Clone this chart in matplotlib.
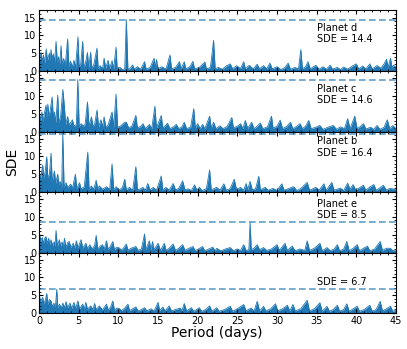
import matplotlib.pyplot as plt
from matplotlib.ticker import AutoMinorLocator

# (period [days], SDE) pairs
planet_d = [(0.05, 3.0), (0.25, 5.2), (0.4, 2.5), (0.55, 4.5), (0.7, 2.2), (0.9, 6.2), (1.05, 3.0), (1.3, 5.0),
            (1.4, 2.8), (1.5, 6.0), (1.65, 3.5), (1.8, 4.8), (1.95, 2.5), (2.14, 8.3), (2.3, 2.2), (2.45, 4.0),
            (2.6, 2.0), (2.77, 7.1), (2.9, 1.8), (3.1, 3.5), (3.3, 1.5), (3.6, 9.0), (3.75, 1.3), (3.95, 2.8),
            (4.2, 1.2), (4.4, 3.0), (4.6, 1.0), (4.9, 9.6), (5.05, 1.2), (5.25, 2.0), (5.5, 8.3), (5.65, 1.0),
            (5.85, 2.2), (6.1, 5.2), (6.25, 0.9), (6.5, 5.2), (6.65, 0.8), (6.9, 1.8), (7.3, 6.4), (7.45, 0.7),
            (7.7, 1.5), (8.0, 0.6), (8.2, 3.6), (8.4, 0.8), (8.7, 3.0), (8.9, 0.7), (9.2, 2.9), (9.4, 0.6),
            (9.7, 6.7), (9.85, 0.5), (10.2, 1.0), (10.5, 0.4), (10.8, 0.6), (11.0, 14.4), (11.2, 0.4), (11.5, 0.8),
            (11.8, 1.7), (12.0, 0.5), (12.4, 1.2), (12.8, 0.5), (13.3, 2.6), (13.5, 0.5), (14.0, 1.0), (14.5, 3.6),
            (14.65, 1.0), (14.8, 3.2), (15.0, 0.6), (15.5, 1.2), (16.0, 0.5), (16.5, 4.5), (16.7, 0.6), (17.2, 1.0),
            (17.7, 2.6), (17.9, 0.6), (18.3, 2.6), (18.5, 0.6), (19.0, 1.2), (19.4, 2.7), (19.6, 0.6), (20.2, 1.0),
            (20.9, 2.5), (21.1, 0.6), (21.6, 1.0), (22.0, 8.6), (22.2, 0.6), (22.6, 1.0), (23.1, 0.5), (23.6, 1.4),
            (24.1, 2.0), (24.4, 0.6), (24.9, 1.5), (25.4, 0.7), (25.8, 2.6), (26.0, 0.6), (26.5, 1.6), (27.0, 0.6),
            (27.5, 1.9), (27.8, 0.6), (28.3, 1.5), (28.7, 0.6), (29.1, 2.2), (29.4, 0.6), (30.0, 1.2), (30.5, 0.4),
            (31.0, 1.0), (31.4, 2.2), (31.7, 0.5), (32.3, 1.0), (32.7, 0.5), (33.0, 6.0), (33.2, 0.6), (33.6, 1.2),
            (33.9, 2.6), (34.2, 0.6), (34.6, 1.2), (34.9, 1.6), (35.3, 0.5), (35.8, 1.2), (36.2, 0.5), (36.7, 1.6),
            (37.0, 0.5), (37.6, 1.0), (38.0, 0.4), (38.4, 1.1), (38.9, 0.5), (39.5, 1.4), (40.0, 2.0), (40.3, 0.6),
            (40.8, 1.4), (41.2, 0.6), (41.7, 2.0), (42.0, 0.6), (42.6, 1.5), (43.1, 0.8), (43.5, 2.0), (43.8, 3.3),
            (44.0, 1.0), (44.3, 3.6), (44.5, 1.0), (44.7, 1.6), (45.0, 1.0)]

planet_c = [(0.05, 5.3), (0.2, 3.0), (0.35, 5.5), (0.5, 2.8), (0.65, 5.0), (0.88, 7.4), (1.0, 4.0), (1.1, 7.7),
            (1.25, 4.5), (1.4, 5.8), (1.64, 9.7), (1.8, 3.5), (1.93, 5.5), (2.1, 2.5), (2.35, 10.2), (2.5, 2.5),
            (2.7, 4.0), (3.0, 11.8), (3.2, 6.7), (3.35, 2.0), (3.6, 4.2), (3.8, 1.8), (4.2, 3.3), (4.4, 1.5),
            (4.7, 2.0), (4.88, 14.6), (5.05, 1.5), (5.3, 2.2), (5.6, 1.5), (5.8, 2.0), (6.1, 8.3), (6.3, 1.5),
            (6.6, 4.1), (6.8, 1.5), (7.0, 2.0), (7.3, 6.0), (7.5, 1.3), (7.8, 3.3), (8.0, 1.3), (8.2, 4.1),
            (8.4, 1.3), (8.7, 1.8), (9.2, 5.5), (9.4, 1.3), (9.7, 10.5), (9.9, 1.2), (10.3, 1.6), (10.8, 2.6),
            (11.0, 2.6), (11.3, 1.0), (11.7, 1.5), (12.2, 4.5), (12.4, 1.0), (12.8, 1.4), (13.1, 2.2), (13.4, 0.8),
            (13.9, 2.0), (14.2, 0.8), (14.6, 7.1), (14.8, 1.0), (15.4, 4.5), (15.6, 1.0), (16.2, 2.3), (16.5, 0.8),
            (17.0, 1.4), (17.3, 2.0), (17.6, 0.8), (18.0, 1.3), (18.3, 2.6), (18.6, 0.8), (19.1, 1.2), (19.5, 6.4),
            (19.7, 1.0), (20.0, 2.2), (20.3, 0.8), (20.6, 2.0), (20.9, 0.8), (21.5, 4.3), (21.7, 1.0), (22.0, 2.6),
            (22.3, 0.8), (22.8, 1.6), (23.2, 0.8), (23.7, 1.4), (24.3, 3.9), (24.5, 1.0), (25.0, 1.5), (25.4, 2.2),
            (25.7, 0.8), (26.0, 3.1), (26.3, 0.9), (26.8, 2.6), (27.1, 0.8), (27.5, 1.5), (27.9, 2.4), (28.2, 0.8),
            (28.8, 1.3), (29.3, 4.3), (29.5, 0.9), (30.0, 1.5), (30.4, 3.2), (30.7, 0.8), (31.2, 1.4), (31.7, 2.6),
            (32.0, 0.8), (32.5, 1.5), (32.9, 2.2), (33.2, 0.8), (33.6, 1.5), (34.0, 3.1), (34.3, 0.8), (34.9, 1.2),
            (35.4, 1.7), (35.8, 0.6), (36.4, 1.2), (37.1, 1.7), (37.5, 0.6), (38.0, 1.3), (38.5, 0.8), (38.9, 3.6),
            (39.2, 0.8), (39.8, 4.3), (40.1, 0.8), (40.5, 1.4), (40.9, 2.2), (41.2, 0.7), (41.8, 1.2), (42.2, 0.6),
            (42.6, 1.7), (43.0, 0.6), (43.5, 1.2), (43.9, 3.3), (44.2, 0.8), (44.6, 1.7), (45.0, 0.8)]

planet_b = [(0.05, 5.4), (0.2, 3.5), (0.35, 6.0), (0.46, 7.6), (0.6, 4.0), (0.75, 5.5), (0.97, 9.9), (1.1, 4.0),
            (1.3, 5.0), (1.51, 10.9), (1.65, 3.0), (1.93, 5.9), (2.1, 2.5), (2.35, 5.0), (2.5, 2.0), (2.65, 3.0),
            (2.85, 1.5), (2.99, 16.4), (3.15, 1.5), (3.4, 2.6), (3.6, 1.3), (4.0, 2.2), (4.2, 1.0), (4.58, 5.0),
            (4.75, 1.0), (5.1, 2.6), (5.3, 0.9), (5.7, 1.5), (6.14, 11.2), (6.3, 0.8), (6.6, 1.7), (6.9, 0.8),
            (7.2, 3.3), (7.4, 0.8), (7.6, 1.7), (8.0, 0.8), (8.5, 1.5), (8.9, 0.7), (9.2, 7.9), (9.4, 0.7),
            (9.7, 1.5), (10.1, 0.6), (10.5, 1.2), (10.8, 3.6), (11.0, 0.6), (11.4, 1.3), (11.8, 0.5), (12.2, 7.1),
            (12.4, 0.6), (12.8, 0.9), (13.1, 1.3), (13.4, 0.5), (13.7, 2.4), (14.0, 0.6), (14.4, 1.3), (14.8, 0.5),
            (15.4, 4.5), (15.6, 0.6), (16.0, 1.3), (16.4, 0.5), (16.9, 2.4), (17.2, 0.6), (17.6, 1.0), (18.1, 3.1),
            (18.4, 0.6), (18.8, 0.9), (19.2, 0.4), (19.6, 2.0), (19.9, 0.5), (20.2, 1.3), (20.6, 0.4), (21.1, 1.0),
            (21.5, 6.2), (21.7, 0.6), (22.0, 0.9), (22.4, 1.3), (22.8, 0.5), (23.3, 2.3), (23.6, 0.5), (24.1, 1.0),
            (24.6, 3.6), (24.9, 0.6), (25.4, 1.3), (25.8, 0.5), (26.1, 2.4), (26.3, 0.7), (26.6, 3.0), (26.9, 0.5),
            (27.3, 1.0), (27.7, 4.4), (27.9, 0.6), (28.5, 1.3), (28.9, 0.5), (29.5, 1.0), (30.0, 0.5), (30.6, 2.3),
            (30.9, 0.5), (31.5, 1.0), (32.1, 1.5), (32.5, 0.4), (33.0, 1.0), (33.8, 2.7), (34.1, 0.5), (34.9, 1.3),
            (35.3, 0.5), (35.9, 2.3), (36.2, 0.5), (36.9, 2.7), (37.2, 0.5), (38.0, 1.1), (38.4, 0.4), (38.9, 2.5),
            (39.2, 0.8), (39.6, 2.1), (39.9, 0.6), (40.4, 1.2), (40.9, 1.9), (41.2, 0.5), (41.7, 1.4), (42.2, 2.1),
            (42.5, 0.5), (43.0, 1.2), (43.4, 1.9), (43.8, 0.5), (44.2, 1.0), (44.6, 0.9), (45.0, 0.6)]

planet_e = [(0.05, 5.5), (0.2, 3.0), (0.4, 4.2), (0.55, 2.5), (0.7, 4.0), (0.88, 4.5), (1.0, 2.5), (1.2, 4.0),
            (1.35, 2.2), (1.5, 3.6), (1.7, 2.0), (1.9, 3.0), (2.0, 1.8), (2.14, 6.2), (2.3, 1.8), (2.56, 3.6),
            (2.7, 1.8), (2.9, 3.0), (3.05, 1.6), (3.2, 4.0), (3.4, 1.5), (3.6, 2.8), (3.8, 3.1), (4.0, 1.4),
            (4.3, 2.6), (4.5, 1.3), (4.7, 3.3), (4.9, 1.3), (5.1, 2.5), (5.3, 3.6), (5.5, 1.2), (5.9, 2.6),
            (6.1, 1.1), (6.4, 2.2), (6.7, 1.0), (7.0, 2.0), (7.2, 4.8), (7.4, 1.0), (7.7, 1.8), (8.0, 2.2),
            (8.2, 0.9), (8.5, 3.3), (8.7, 0.9), (9.0, 1.8), (9.3, 3.1), (9.5, 0.8), (9.8, 1.5), (10.1, 1.3),
            (10.4, 0.7), (10.7, 1.4), (11.0, 2.4), (11.2, 0.7), (11.6, 1.2), (12.2, 1.7), (12.5, 0.6), (12.9, 1.0),
            (13.3, 5.2), (13.45, 0.8), (13.9, 3.3), (14.1, 0.8), (14.3, 3.1), (14.5, 0.8), (15.0, 2.6), (15.3, 0.6),
            (15.8, 2.6), (16.0, 0.6), (16.4, 1.2), (16.9, 2.4), (17.2, 0.6), (17.6, 1.2), (18.1, 2.2), (18.4, 0.6),
            (18.9, 1.2), (19.4, 1.7), (19.7, 0.5), (20.1, 1.0), (20.6, 1.7), (20.9, 0.5), (21.4, 1.0), (21.9, 1.5),
            (22.2, 0.5), (22.4, 1.2), (22.9, 0.5), (23.5, 1.0), (24.1, 1.4), (24.5, 0.5), (25.0, 1.0), (25.4, 0.6),
            (25.8, 2.2), (26.1, 0.6), (26.45, 0.8), (26.6, 8.5), (26.75, 0.8), (27.1, 1.2), (27.5, 2.2), (27.8, 0.8),
            (28.3, 1.4), (28.7, 0.6), (29.3, 1.0), (30.0, 2.2), (30.3, 0.6), (31.0, 2.6), (31.3, 0.6), (31.9, 1.8),
            (32.3, 0.5), (32.9, 1.0), (33.5, 0.6), (33.8, 3.3), (34.1, 0.6), (34.7, 1.2), (35.4, 2.6), (35.7, 0.5),
            (36.3, 1.4), (36.7, 0.5), (37.2, 1.0), (37.6, 2.2), (37.9, 0.5), (38.4, 1.0), (38.8, 3.1), (39.1, 0.5),
            (39.6, 1.2), (40.1, 2.2), (40.4, 0.5), (40.9, 1.2), (41.4, 1.8), (41.7, 0.5), (42.3, 1.0), (43.0, 3.1),
            (43.3, 0.6), (43.8, 1.2), (44.3, 1.2), (44.6, 0.5), (45.0, 0.8)]

residual = [(0.05, 4.8), (0.2, 3.0), (0.46, 4.4), (0.6, 2.5), (0.8, 3.8), (0.97, 5.5), (1.1, 2.5), (1.3, 3.8),
            (1.5, 3.4), (1.65, 1.8), (1.85, 2.8), (2.05, 1.5), (2.23, 6.7), (2.35, 1.5), (2.56, 2.5), (2.8, 1.5),
            (3.0, 2.8), (3.2, 1.5), (3.4, 3.2), (3.6, 1.5), (3.9, 2.8), (4.1, 1.3), (4.4, 3.0), (4.6, 1.3),
            (4.9, 3.4), (5.1, 1.2), (5.5, 2.5), (5.7, 1.1), (5.9, 3.0), (6.1, 1.1), (6.5, 2.0), (6.8, 1.0),
            (7.0, 2.7), (7.2, 1.0), (7.6, 2.0), (8.0, 0.9), (8.5, 2.5), (8.7, 0.9), (9.0, 1.6), (9.3, 3.4),
            (9.5, 0.8), (9.8, 1.4), (10.1, 1.3), (10.4, 0.7), (10.8, 1.4), (11.2, 2.5), (11.4, 0.7), (11.8, 1.2),
            (12.2, 1.7), (12.5, 0.6), (12.9, 1.0), (13.3, 1.5), (13.6, 0.6), (14.1, 1.2), (14.5, 0.6), (15.0, 3.0),
            (15.2, 0.7), (15.6, 1.7), (15.9, 0.6), (16.4, 2.0), (16.7, 0.6), (17.2, 1.0), (17.8, 1.4), (18.0, 0.6),
            (18.3, 2.7), (18.6, 0.6), (19.2, 1.5), (19.5, 0.5), (20.2, 1.5), (20.5, 0.5), (21.0, 1.0), (21.5, 2.0),
            (21.8, 0.5), (22.4, 1.5), (22.7, 0.5), (23.4, 1.0), (24.1, 1.9), (24.4, 0.5), (25.0, 1.2), (25.8, 2.4),
            (26.1, 0.6), (26.7, 1.4), (27.1, 0.6), (27.5, 3.3), (27.8, 0.6), (28.3, 1.9), (28.6, 0.6), (29.2, 1.2),
            (29.8, 2.6), (30.1, 0.6), (30.7, 1.2), (31.3, 2.2), (31.6, 0.6), (32.0, 2.4), (32.3, 0.6), (33.0, 1.2),
            (33.8, 3.6), (34.1, 0.6), (34.7, 1.2), (35.4, 2.9), (35.7, 0.5), (36.3, 1.9), (36.6, 0.5), (37.1, 1.0),
            (37.6, 2.2), (37.9, 0.5), (38.4, 1.0), (38.8, 2.6), (39.1, 0.5), (39.6, 1.2), (40.1, 1.9), (40.4, 0.5),
            (41.0, 1.0), (41.7, 2.2), (42.0, 0.5), (42.5, 1.0), (43.0, 3.3), (43.3, 0.6), (43.8, 1.2), (44.3, 1.9),
            (44.6, 0.5), (45.0, 0.8)]

panels = [planet_d, planet_c, planet_b, planet_e, residual]
labels = ["Planet d", "Planet c", "Planet b", "Planet e", ""]
sde_peaks = [14.4, 14.6, 16.4, 8.5, 6.7]
# vertical spot (axes fraction) of the first text line in each panel
label_y = [0.71, 0.71, 0.835, 0.81, 0.70]

fig, axes = plt.subplots(5, 1, figsize=(4.07, 3.49), dpi=100, sharex=True)
fig.subplots_adjust(left=0.096, right=0.973, top=0.97, bottom=0.103, hspace=0)

for ax, data, label, sde, ly in zip(axes, panels, labels, sde_peaks, label_y):
    period, power = zip(*data)
    ax.plot(period, power, color='#1f77b4', lw=0.6)
    ax.fill_between(period, 0, power, color='#1f77b4', lw=0)
    ax.axhline(sde, color='#1f77b4', alpha=0.7, ls=(0, (4, 2)), lw=1.2)
    ax.set_xlim(0, 45)
    ax.set_ylim(0, 17)
    ax.set_yticks([0, 5, 10, 15])
    ax.xaxis.set_minor_locator(AutoMinorLocator(5))
    ax.yaxis.set_minor_locator(AutoMinorLocator(5))
    ax.tick_params(which='both', direction='in', labelsize=7, top=True, right=True)
    ax.tick_params(which='major', length=3, pad=2)
    ax.tick_params(which='minor', length=1.5)
    if label:
        ax.text(0.778, ly, label, transform=ax.transAxes, fontsize=7, va='center', ha='left')
    ax.text(0.778, ly - 0.182, f"SDE = {sde}", transform=ax.transAxes, fontsize=7,
            va='center', ha='left')

fig.text(0.03, 0.535, 'SDE', rotation=90, va='center', ha='center', fontsize=10)
fig.text(0.532, 0.045, 'Period (days)', va='center', ha='center', fontsize=10)

plt.savefig('out.png', dpi=100)
